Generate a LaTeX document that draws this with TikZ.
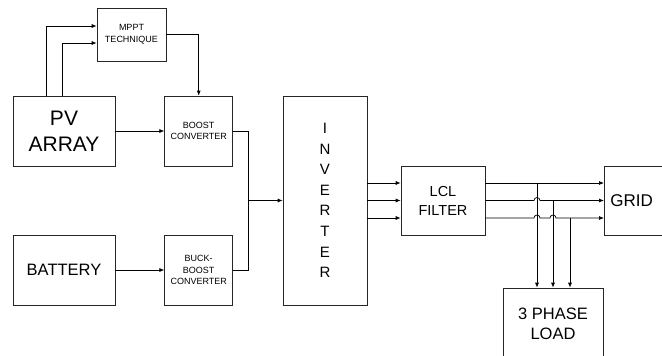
\documentclass[tikz,border=0pt]{standalone}
\usepackage{fontspec}
\setmainfont{Liberation Sans}
\usetikzlibrary{arrows.meta, positioning, calc}

\begin{document}
\begin{tikzpicture}[
        x=1pt, y=-1pt,
        box/.style={rectangle, draw=black!85, line width=0.7pt, align=center, inner sep=0pt},
        smallbox/.style={box, minimum width=68pt, minimum height=70pt, font=\fontsize{9}{11.8}\selectfont},
        bigbox/.style={box, minimum width=102pt, minimum height=70pt},
        arrow/.style={-{Latex[length=5pt,width=4pt]}, line width=0.7pt},
        wire/.style={line width=0.7pt}
    ]
    \useasboundingbox (0,0) rectangle (662,356);
    % sources and converters
    \node (mppt) [box, minimum width=69pt, minimum height=53pt, font=\fontsize{9}{12.5}\selectfont] at (131.5,34.5) {MPPT\\TECHNIQUE};
    \node (pv) [bigbox, font=\fontsize{21}{26}\selectfont] at (64,131) {PV\\ARRAY};
    \node (boost) [smallbox, right=49pt of pv] {BOOST\\CONVERTER};
    \node (bat) [bigbox, font=\fontsize{16.5}{20}\selectfont] at (64,270) {BATTERY};
    \node (buck) [smallbox, right=49pt of bat] {BUCK-\\BOOST\\CONVERTER};
    % inverter, filter, grid and load
    \node (inv) [box, minimum width=84pt, minimum height=209pt, font=\fontsize{15}{20.6}\selectfont] at (325,200.5) {I\\N\\V\\E\\R\\T\\E\\R};
    \node (lcl) [box, minimum width=84pt, minimum height=69pt, font=\fontsize{14.5}{19}\selectfont] at (443,200.5) {LCL\\FILTER};
    \node (grid) [box, anchor=west, minimum height=69pt, inner xsep=6pt, text width=88pt, align=left, font=\fontsize{17}{20}\selectfont] at (604,200.5) {GRID};
    \node (load) [box, minimum width=100pt, minimum height=72pt, font=\fontsize{16.5}{20.5}\selectfont] at (553,324) {3 PHASE\\LOAD};

    \coordinate (ph1) at (0,183);
    \coordinate (ph2) at (0,200.5);
    \coordinate (ph3) at (0,218);
    \coordinate (tapA) at (537,183);
    \coordinate (tapB) at (553,200.5);
    \coordinate (tapC) at (570,218);
    \coordinate (jn) at (248,200.5);

    % MPPT loop
    \draw [arrow] ([xshift=-18pt]pv.north) |- ([yshift=8.5pt]mppt.west);
    \draw [arrow] ([xshift=-2pt]pv.north) |- ([yshift=-8.5pt]mppt.west);
    \draw [arrow] (mppt.east) -| (boost.north);
    \draw [arrow] (pv) -- (boost);
    \draw [arrow] (bat) -- (buck);
    % DC link
    \draw [wire] (boost.east) -| (jn);
    \draw [wire] (buck.east) -| (jn);
    \draw [arrow] (jn) -- (inv.west |- jn);
    % three phases
    \draw [arrow] (inv.east |- ph1) -- (lcl.west |- ph1);
    \draw [arrow] (inv.east |- ph2) -- (lcl.west |- ph2);
    \draw [arrow] (inv.east |- ph3) -- (lcl.west |- ph3);
    \draw [arrow] (lcl.east |- ph1) -- (grid.west |- ph1);
    \draw [arrow] (lcl.east |- ph2) -- ([xshift=-3pt]tapA |- ph2) arc[start angle=180, end angle=0, radius=3pt] -- (grid.west |- ph2);
    \draw [arrow] (lcl.east |- ph3) -- ([xshift=-3pt]tapA |- ph3) arc[start angle=180, end angle=0, radius=3pt]
        -- ([xshift=-3pt]tapB |- ph3) arc[start angle=180, end angle=0, radius=3pt] -- (grid.west |- ph3);
    \draw [arrow] (tapA) -- (load.north -| tapA);
    \draw [arrow] (tapB) -- (load.north -| tapB);
    \draw [arrow] (tapC) -- (load.north -| tapC);
\end{tikzpicture}
\end{document}
